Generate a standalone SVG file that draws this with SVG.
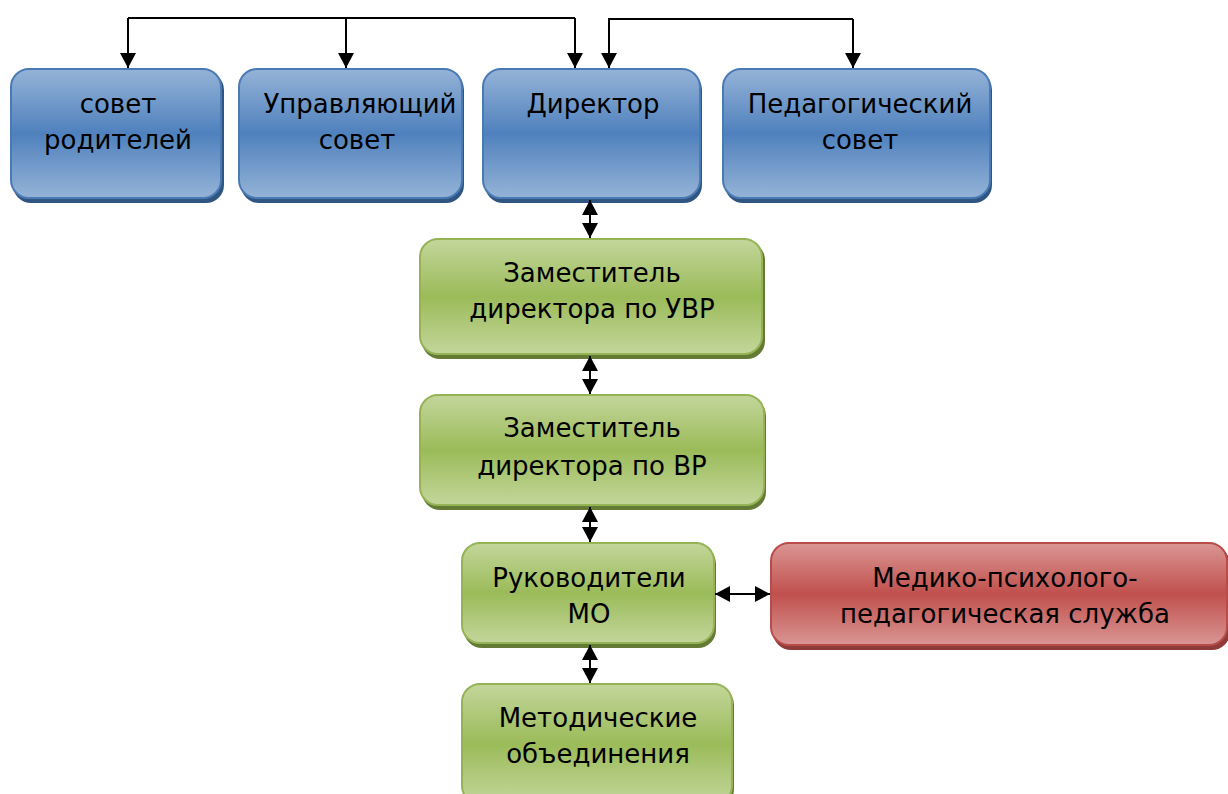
<svg xmlns="http://www.w3.org/2000/svg" width="1228" height="794" viewBox="0 0 1228 794">
<defs>
<linearGradient id="gb" x1="0" y1="0" x2="0" y2="1">
<stop offset="0" stop-color="#95b3d7"/><stop offset="0.5" stop-color="#4f81bd"/><stop offset="1" stop-color="#95b3d7"/>
</linearGradient>
<linearGradient id="gg" x1="0" y1="0" x2="0" y2="1">
<stop offset="0" stop-color="#c3d69b"/><stop offset="0.5" stop-color="#9bbb59"/><stop offset="1" stop-color="#c3d69b"/>
</linearGradient>
<linearGradient id="gr" x1="0" y1="0" x2="0" y2="1">
<stop offset="0" stop-color="#da9694"/><stop offset="0.5" stop-color="#c0504d"/><stop offset="1" stop-color="#da9694"/>
</linearGradient>
<marker id="ah" viewBox="0 0 15 16" refX="15" refY="8" markerWidth="15" markerHeight="16" markerUnits="userSpaceOnUse" orient="auto-start-reverse">
<path d="M0,0 L15,8 L0,16 Z" fill="#000"/>
</marker>
</defs>
<style>
.t{font-family:"DejaVu Sans","Verdana",sans-serif;font-size:26px;fill:#000;text-anchor:middle}
.bs{fill:#2f5582}.gs{fill:#637b35}.rs{fill:#8e3b39}
.b{fill:url(#gb);stroke:#4a7ab5;stroke-width:2}
.g{fill:url(#gg);stroke:#94b355;stroke-width:2}
.r{fill:url(#gr);stroke:#b84c49;stroke-width:2}
.c{fill:none;stroke:#000;stroke-width:2}
</style>
<g id="n1">
<rect class="bs" x="13" y="72" width="211" height="131" rx="18"/>
<rect class="b" x="11" y="69" width="210" height="129" rx="18"/>
<text class="t" x="118" y="113">совет</text><text class="t" x="118" y="149">родителей</text>
</g>
<g id="n2">
<rect class="bs" x="241" y="72" width="223" height="131" rx="18"/>
<rect class="b" x="239" y="69" width="223" height="129" rx="18"/>
<text class="t" x="360" y="113">Управляющий</text><text class="t" x="357" y="149">совет</text>
</g>
<g id="n3">
<rect class="bs" x="485" y="72" width="217" height="131" rx="18"/>
<rect class="b" x="483" y="69" width="217" height="129" rx="18"/>
<text class="t" x="593" y="113">Директор</text>
</g>
<g id="n4">
<rect class="bs" x="725" y="72" width="267" height="131" rx="18"/>
<rect class="b" x="723" y="69" width="267" height="129" rx="18"/>
<text class="t" x="860" y="113">Педагогический</text><text class="t" x="860" y="149">совет</text>
</g>
<g id="n5">
<rect class="gs" x="422" y="242" width="343" height="117" rx="18"/>
<rect class="g" x="420" y="239" width="342" height="115" rx="18"/>
<text class="t" x="592" y="282">Заместитель</text><text class="t" x="592" y="318">директора по УВР</text>
</g>
<g id="n6">
<rect class="gs" x="422" y="398" width="344" height="112" rx="18"/>
<rect class="g" x="420" y="395" width="344" height="110" rx="18"/>
<text class="t" x="592" y="437">Заместитель</text><text class="t" x="592" y="475">директора по ВР</text>
</g>
<g id="n7">
<rect class="gs" x="464" y="546" width="252" height="102" rx="18"/>
<rect class="g" x="462" y="543" width="252" height="100" rx="18"/>
<text class="t" x="589" y="587">Руководители</text><text class="t" x="589" y="623">МО</text>
</g>
<g id="n8">
<rect class="rs" x="773" y="546" width="457" height="104" rx="18"/>
<rect class="r" x="771" y="543" width="456" height="102" rx="18"/>
<text class="t" x="1005" y="587">Медико-психолого-</text><text class="t" x="1005" y="623">педагогическая служба</text>
</g>
<g id="n9">
<rect class="gs" x="464" y="687" width="270" height="120" rx="18"/>
<rect class="g" x="462" y="684" width="270" height="120" rx="18"/>
<text class="t" x="598" y="727">Методические</text><text class="t" x="598" y="763">объединения</text>
</g>
<g id="connectors">
<path class="c" d="M128,18 H575"/>
<path class="c" d="M128,18 V68" marker-end="url(#ah)"/>
<path class="c" d="M346,18 V68" marker-end="url(#ah)"/>
<path class="c" d="M575,18 V68" marker-end="url(#ah)"/>
<path class="c" d="M853,19 H609 V68" marker-end="url(#ah)"/>
<path class="c" d="M853,19 V68" marker-end="url(#ah)"/>
<path class="c" d="M590,200 V238" marker-start="url(#ah)" marker-end="url(#ah)"/>
<path class="c" d="M590,356 V394" marker-start="url(#ah)" marker-end="url(#ah)"/>
<path class="c" d="M590,507 V542" marker-start="url(#ah)" marker-end="url(#ah)"/>
<path class="c" d="M590,645 V683" marker-start="url(#ah)" marker-end="url(#ah)"/>
<path class="c" d="M715,594 H770" marker-start="url(#ah)" marker-end="url(#ah)"/>
</g>
</svg>
